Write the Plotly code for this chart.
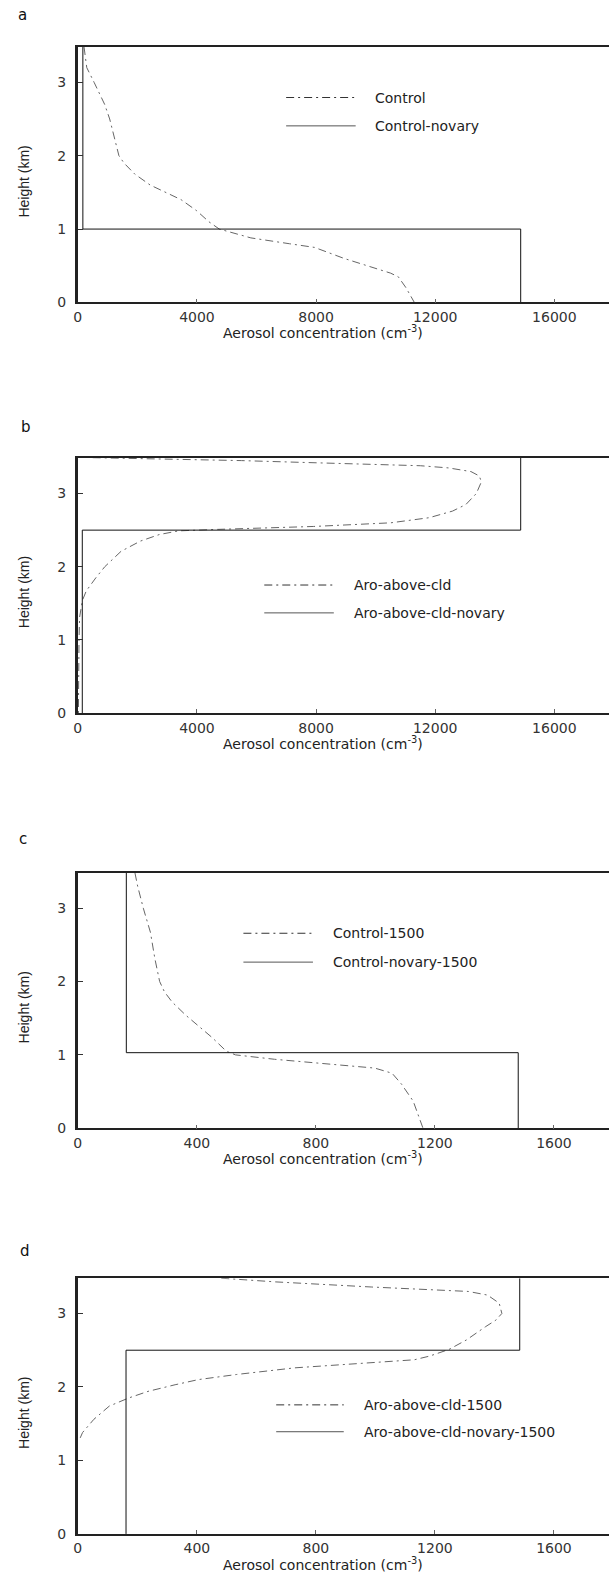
import plotly.graph_objects as go

W, H = 609, 1583

# ---------------- data ----------------
# Panel a
height_control = [3.48, 3.2, 3.0, 2.7, 2.5, 2.2, 2.0, 1.9, 1.75, 1.6, 1.5, 1.4, 1.25, 1.1, 1.0,
                  0.95, 0.88, 0.8, 0.75, 0.6, 0.5, 0.4, 0.35, 0.2, 0.0]
conc_control = [210, 300, 546, 900, 1070, 1260, 1380, 1550, 1910, 2430, 2950, 3470, 3990, 4400, 4750,
                5230, 5810, 7110, 7950, 8940, 9720, 10500, 10760, 11020, 11300]
height_control_novary = [3.48, 1.0, 1.0, 0.0]
conc_control_novary = [170, 170, 14870, 14870]

# Panel b
height_aro = [3.49, 3.47, 3.45, 3.42, 3.38, 3.35, 3.30, 3.24, 3.16, 3.0, 2.85, 2.76, 2.67, 2.6,
              2.55, 2.51, 2.49, 2.44, 2.35, 2.21, 2.0, 1.85, 1.67, 1.54, 1.31, 1.0, 0.6, 0.0]
conc_aro = [500, 3300, 5500, 8000, 11500, 12450, 13200, 13480, 13550, 13380, 13030, 12580, 11800,
            10510, 7920, 4690, 3390, 2740, 2100, 1450, 906, 608, 285, 155, 60, 40, 30, 20]
height_aro_novary = [0.0, 2.5, 2.5, 3.49]
conc_aro_novary = [150, 150, 14870, 14870]

# Panel c
height_control1500 = [3.48, 3.3, 3.0, 2.67, 2.31, 2.0, 1.86, 1.72, 1.54, 1.41, 1.23, 1.05, 1.0,
                      0.94, 0.87, 0.82, 0.75, 0.6, 0.37, 0.14, 0.0]
conc_control1500 = [192, 201, 220, 244, 259, 275, 291, 317, 363, 402, 453, 499, 530,
                    661, 855, 998, 1056, 1088, 1127, 1147, 1160]
height_control1500_novary = [3.48, 1.03, 1.03, 0.0]
conc_control1500_novary = [163, 163, 1480, 1480]

# Panel d
height_aro1500 = [3.48, 3.43, 3.36, 3.30, 3.25, 3.14, 3.0, 2.91, 2.82, 2.64, 2.51, 2.42, 2.37, 2.33,
                  2.26, 2.17, 2.10, 2.03, 1.94, 1.85, 1.74, 1.56, 1.38, 1.26]
conc_aro1500 = [482, 664, 988, 1312, 1377, 1416, 1425, 1405, 1370, 1306, 1247, 1182, 1131, 988,
                729, 534, 405, 327, 236, 171, 106, 54, 16, 3]
height_aro1500_novary = [0.0, 2.5, 2.5, 3.48]
conc_aro1500_novary = [162, 162, 1485, 1485]

panel_letters = ["a", "b", "c", "d"]
legend_names = [("Control", "Control-novary"),
                ("Aro-above-cld", "Aro-above-cld-novary"),
                ("Control-1500", "Control-novary-1500"),
                ("Aro-above-cld-1500", "Aro-above-cld-novary-1500")]
xticks_big = [0, 4000, 8000, 12000, 16000]
xticks_big_text = ["0", "4000", "8000", "12000", "16000"]
xticks_small = [0, 400, 800, 1200, 1600]
xticks_small_text = ["0", "400", "800", "1200", "1600"]
yticks = [0, 1, 2, 3]
yticks_text = ["0", "1", "2", "3"]
x_title = "Aerosol concentration (cm<sup>-3</sup>)"
y_title = "Height (km)"

# ---------------- layout geometry (pixels) ----------------
def px(x):
    return x / W

def py(y):
    return 1 - y / H

left = 74.3
panels = [  # top, bottom, xmax, ymax
    (47.3, 304.0, 17835, 3.48),
    (460.0, 716.7, 17835, 3.49),
    (877.3, 1134.0, 1785, 3.48),
    (1284.7, 1541.7, 1785, 3.48),
]
legend_pos = [  # line x0, x1, y1, y2, text x
    (284, 354, 98, 126.5, 371),
    (262, 332, 588, 616, 350),
    (241, 311, 938, 967, 329),
    (274, 342, 1412, 1439, 360),
]
letter_pos = [(19, 15), (22, 429), (19, 843), (21, 1257)]

DASHDOT = "8px,4px,2px,4px"
CURVE_COL = "#666666"
STEP_COL = "#111111"

series = [
    (conc_control, height_control, conc_control_novary, height_control_novary),
    (conc_aro, height_aro, conc_aro_novary, height_aro_novary),
    (conc_control1500, height_control1500, conc_control1500_novary, height_control1500_novary),
    (conc_aro1500, height_aro1500, conc_aro1500_novary, height_aro1500_novary),
]

fig = go.Figure()
shapes = []
annotations = []
tickfont = dict(family="DejaVu Sans", size=14, color="#333333")

for i, (top, bot, xmax, ymax) in enumerate(panels):
    n = "" if i == 0 else str(i + 1)
    xa, ya = "x" + n, "y" + n
    cx, cy, sx, sy = series[i]
    fig.add_trace(go.Scatter(x=cx, y=cy, mode="lines", xaxis=xa, yaxis=ya,
                             line=dict(color=CURVE_COL, width=1, dash=DASHDOT),
                             name=legend_names[i][0], showlegend=False))
    fig.add_trace(go.Scatter(x=sx, y=sy, mode="lines", xaxis=xa, yaxis=ya,
                             line=dict(color=STEP_COL, width=1),
                             name=legend_names[i][1], showlegend=False))
    fig.layout["xaxis" + n] = dict(
        domain=[px(left), 1], range=[0, xmax], anchor=ya,
        tickmode="array",
        tickvals=xticks_big if i < 2 else xticks_small,
        ticktext=xticks_big_text if i < 2 else xticks_small_text,
        ticks="inside", ticklen=4, tickcolor="#666", tickwidth=1,
        showline=True, linecolor="#222", linewidth=1.5, mirror=True,
        showgrid=False, zeroline=False, tickfont=tickfont, ticklabelstandoff=1,
    )
    fig.layout["yaxis" + n] = dict(
        domain=[py(bot), py(top)], range=[0, ymax], anchor=xa,
        tickmode="array", tickvals=yticks, ticktext=yticks_text,
        ticks="inside", ticklen=5, tickcolor="#333", tickwidth=1,
        showline=True, linecolor="#222", linewidth=2.5, mirror=False,
        showgrid=False, zeroline=False, tickfont=tickfont, ticklabelstandoff=6,
    )
    # legend samples
    lx0, lx1, ly1, ly2, tx = legend_pos[i]
    shapes.append(dict(type="line", xref="paper", yref="paper",
                       x0=px(lx0), x1=px(lx1), y0=py(ly1), y1=py(ly1),
                       line=dict(color="#333333", width=1, dash=DASHDOT)))
    shapes.append(dict(type="line", xref="paper", yref="paper",
                       x0=px(lx0), x1=px(lx1), y0=py(ly2), y1=py(ly2),
                       line=dict(color="#555555", width=1)))
    lfont = dict(family="DejaVu Sans", size=14, color="#222222")
    annotations.append(dict(text=legend_names[i][0], x=px(tx), y=py(ly1), xref="paper", yref="paper",
                            xanchor="left", yanchor="middle", showarrow=False, font=lfont))
    annotations.append(dict(text=legend_names[i][1], x=px(tx), y=py(ly2), xref="paper", yref="paper",
                            xanchor="left", yanchor="middle", showarrow=False, font=lfont))
    # panel letter
    lx, ly = letter_pos[i]
    annotations.append(dict(text=panel_letters[i], x=px(lx), y=py(ly), xref="paper", yref="paper",
                            xanchor="center", yanchor="middle", showarrow=False,
                            font=dict(family="DejaVu Sans", size=15, color="#111")))
    # axis titles
    annotations.append(dict(text=x_title, x=px(321), y=py(bot + 30), xref="paper", yref="paper",
                            xanchor="center", yanchor="middle", showarrow=False,
                            font=dict(family="DejaVu Sans", size=14, color="#222")))
    annotations.append(dict(text=y_title, x=px(20), y=py((top + bot) / 2 + 7), xref="paper", yref="paper",
                            xanchor="center", yanchor="middle", showarrow=False, textangle=-90,
                            font=dict(family="Liberation Sans", size=14, color="#222")))

fig.update_layout(width=W, height=H, autosize=False,
                  margin=dict(l=0, r=0, t=0, b=0),
                  paper_bgcolor="white", plot_bgcolor="white",
                  shapes=shapes, annotations=annotations, showlegend=False)

fig.write_html("out.html", config={"displayModeBar": False},
               post_script="document.documentElement.style.margin='0';document.body.style.margin='0';"
                           "document.body.style.padding='0';document.documentElement.style.overflow='hidden';"
                           "document.body.style.overflow='hidden';")
